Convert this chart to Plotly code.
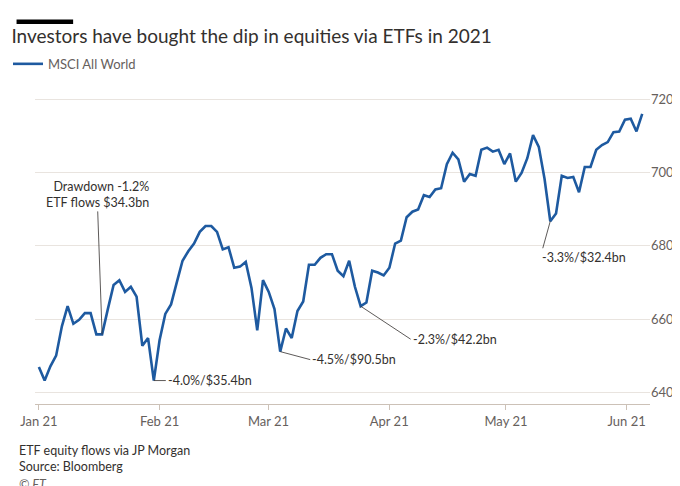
import pandas as pd
import numpy as np
import plotly.graph_objects as go

# MSCI All World
vals = [646.9, 643.2, 647.1, 650.0, 658.0, 663.5, 658.7, 659.8, 661.6, 661.6, 655.8, 655.8,
        662.7, 669.3, 670.6, 667.4, 668.8, 666.1, 652.7, 654.8, 643.2, 654.2, 661.4, 664.0,
        670.0, 675.9, 678.5, 680.6, 683.8, 685.4, 685.4, 683.8, 679.0, 679.6, 674.0, 674.3,
        675.6, 668.5, 656.9, 670.6, 667.4, 662.7, 651.1, 657.4, 654.8, 662.2, 664.8, 674.8,
        674.8, 676.7, 677.7, 677.7, 673.2, 671.7, 675.9, 668.8, 663.5, 664.5, 673.2, 672.7,
        671.9, 674.0, 680.6, 681.4, 687.8, 689.3, 689.9, 693.8, 693.3, 695.4, 695.7, 702.3,
        705.4, 703.6, 697.5, 699.6, 699.1, 706.2, 706.8, 705.7, 706.2, 702.3, 705.2, 697.5,
        699.9, 703.9, 710.2, 707.0, 698.3, 686.7, 688.8, 699.1, 698.5, 698.8, 694.6, 701.5,
        701.5, 706.2, 707.5, 708.3, 711.0, 711.2, 714.4, 714.7, 711.2, 716.0]
dates = pd.date_range("2021-01-01", "2021-06-05", periods=len(vals))

tick_vals = ["2021-01-01", "2021-02-01", "2021-03-01", "2021-04-01", "2021-05-01", "2021-06-01"]
tick_text = ["Jan 21", "Feb 21", "Mar 21", "Apr 21", "May 21", "Jun 21"]

# annotations: (index of point, label, x offset, y offset, anchor)
notes = [
    (11, "Drawdown -1.2%<br>ETF flows $34.3bn", -5, -140, "center"),
    (20, "-4.0%/$35.4bn", 12, 0, "left"),
    (42, "-4.5%/$90.5bn", 30, 8, "left"),
    (56, "-2.3%/$42.2bn", 50, 33, "left"),
    (89, "-3.3%/$32.4bn", -10, 36, "left"),
]

fig = go.Figure()
fig.add_trace(go.Scatter(x=dates, y=vals, mode="lines", name="MSCI All World",
                         line=dict(color="#1E5AA0", width=2.6)))

for i, txt, ax, ay, anc in notes:
    fig.add_annotation(x=dates[i], y=vals[i], text=txt, showarrow=True, arrowhead=0,
                       arrowwidth=0.8, arrowcolor="#33302e", ax=ax, ay=ay, xanchor=anc,
                       font=dict(size=12.5, color="#33302e"), align="right" if anc == "center" else "left")

fig.add_shape(type="rect", xref="paper", yref="paper", x0=-0.03, x1=0.062, y0=1.235, y1=1.25,
              fillcolor="black", line_width=0)

fig.update_layout(
    width=680, height=486,
    font=dict(family="Lato, sans-serif", color="#33302e", size=13),
    title=dict(text="Investors have bought the dip in equities via ETFs in 2021",
               x=0.005, xanchor="left", y=0.955, font=dict(size=19, color="#33302e")),
    paper_bgcolor="white", plot_bgcolor="white",
    margin=dict(l=18, r=38, t=78, b=90),
    showlegend=True,
    legend=dict(x=0.0, xref="container", y=0.885, yref="container", xanchor="left",
                yanchor="middle", orientation="h",
                font=dict(size=13, color="#66605c")),
    xaxis=dict(range=["2020-12-31", "2021-06-07"], tickvals=tick_vals, ticktext=tick_text,
               showgrid=False, ticks="outside", ticklen=5, tickcolor="#ccc1b7",
               showline=True, linecolor="#ccc1b7", tickfont=dict(color="#66605c")),
    yaxis=dict(range=[636.8, 720.8], side="right", tickvals=[640, 660, 680, 700, 720],
               gridcolor="#e9e4df", zeroline=False, tickfont=dict(color="#66605c")),
)

fig.add_annotation(xref="paper", yref="paper", x=-0.03, y=-0.12, xanchor="left", yanchor="top",
                   showarrow=False, align="left",
                   text="ETF equity flows via JP Morgan<br>Source: Bloomberg",
                   font=dict(size=12.5, color="#33302e"))
fig.add_annotation(xref="paper", yref="paper", x=-0.03, y=-0.23, xanchor="left", yanchor="top",
                   showarrow=False, text="<i>© FT</i>", font=dict(size=12.5, color="#66605c"))

fig.write_html("out.html")
